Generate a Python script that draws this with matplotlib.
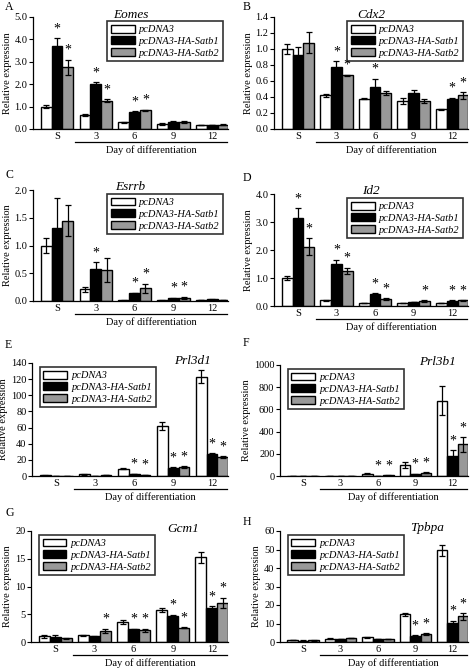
import matplotlib
matplotlib.use("Agg")
import matplotlib.pyplot as plt
import matplotlib.transforms as mtransforms
import numpy as np
from matplotlib.patches import Patch

plt.rcParams['font.family'] = ['Liberation Serif', 'DejaVu Serif']

groups = ['S', '3', '6', '9', '12']
series_names = ['pcDNA3', 'pcDNA3-HA-Satb1', 'pcDNA3-HA-Satb2']
colors = ['white', 'black', '#999999']

# Panel data: mean values and errors per series (pcDNA3, Satb1, Satb2)
eomes_mean = [[1.0, 0.62, 0.30, 0.22, 0.18], [3.72, 2.02, 0.76, 0.32, 0.18], [2.75, 1.27, 0.84, 0.32, 0.20]]
eomes_err = [[0.08, 0.03, 0.03, 0.03, 0.02], [0.33, 0.07, 0.04, 0.03, 0.02], [0.35, 0.05, 0.03, 0.03, 0.02]]
eomes_star = [[], [0, 1, 2], [0, 1, 2]]

cdx2_mean = [[1.0, 0.42, 0.38, 0.35, 0.245], [0.93, 0.78, 0.53, 0.45, 0.37], [1.08, 0.67, 0.45, 0.35, 0.42]]
cdx2_err = [[0.06, 0.02, 0.01, 0.04, 0.01], [0.10, 0.07, 0.10, 0.04, 0.02], [0.13, 0.01, 0.03, 0.03, 0.04]]
cdx2_star = [[], [1, 2, 4], [1, 4]]

esrrb_mean = [[1.0, 0.21, 0.01, 0.01, 0.02], [1.32, 0.58, 0.14, 0.05, 0.03], [1.45, 0.56, 0.23, 0.06, 0.02]]
esrrb_err = [[0.13, 0.04, 0.005, 0.005, 0.005], [0.53, 0.12, 0.01, 0.01, 0.005], [0.28, 0.21, 0.08, 0.02, 0.005]]
esrrb_star = [[], [1, 2, 3], [2, 3]]

id2_mean = [[1.0, 0.20, 0.10, 0.10, 0.10], [3.15, 1.50, 0.42, 0.15, 0.18], [2.12, 1.25, 0.25, 0.18, 0.20]]
id2_err = [[0.07, 0.02, 0.01, 0.01, 0.01], [0.35, 0.15, 0.03, 0.01, 0.02], [0.30, 0.12, 0.03, 0.02, 0.02]]
id2_star = [[], [0, 1, 2, 4], [0, 1, 2, 3, 4]]

prl3d1_mean = [[0.8, 2.0, 9.0, 62.0, 123.0], [0.5, 0.5, 2.5, 10.0, 27.0], [0.5, 0.8, 1.5, 11.0, 23.5]]
prl3d1_err = [[0.2, 0.3, 0.8, 5.0, 8.0], [0.1, 0.1, 0.3, 1.0, 1.5], [0.1, 0.1, 0.2, 1.0, 1.0]]
prl3d1_star = [[], [2, 3, 4], [2, 3, 4]]

prl3b1_mean = [[1.0, 2.0, 20.0, 100.0, 680.0], [1.0, 1.0, 3.0, 15.0, 180.0], [1.0, 1.0, 5.0, 30.0, 285.0]]
prl3b1_err = [[0.2, 0.3, 3.0, 30.0, 130.0], [0.2, 0.2, 0.5, 5.0, 50.0], [0.2, 0.2, 1.0, 5.0, 65.0]]
prl3b1_star = [[], [2, 3, 4], [2, 3, 4]]

gcm1_mean = [[1.0, 1.2, 3.6, 5.8, 15.3], [0.9, 1.0, 2.3, 4.7, 6.1], [0.7, 2.0, 2.1, 2.6, 7.1]]
gcm1_err = [[0.2, 0.15, 0.3, 0.4, 1.0], [0.3, 0.1, 0.1, 0.2, 0.3], [0.1, 0.4, 0.3, 0.1, 0.9]]
gcm1_star = [[], [2, 3, 4], [1, 2, 3, 4]]

tpbpa_mean = [[1.0, 1.8, 2.5, 15.0, 49.5], [0.8, 1.7, 1.6, 3.5, 10.5], [0.9, 2.0, 1.5, 4.3, 13.8]]
tpbpa_err = [[0.1, 0.1, 0.2, 0.7, 3.0], [0.1, 0.1, 0.1, 0.3, 1.0], [0.1, 0.1, 0.1, 0.4, 1.8]]
tpbpa_star = [[], [3, 4], [3, 4]]

W, H = 477, 669
DPI = 100
fig = plt.figure(figsize=(W / DPI, H / DPI), dpi=DPI)


def add_ax(l, t, r, b):
    return fig.add_axes([l / W, 1 - b / H, (r - l) / W, (b - t) / H])


def px_offset(base, dy_px):
    return base + mtransforms.ScaledTranslation(0, dy_px / DPI, fig.dpi_scale_trans)


panels = [
    dict(letter='A', title='Eomes', box=(33, 17, 228, 129), mean=eomes_mean, err=eomes_err, star=eomes_star,
         yticks=np.arange(0, 5.01, 1.0), fmt='{:.1f}', ymax=5.0, leg='right', tx=0.5, lpos=(5, 7)),
    dict(letter='B', title='Cdx2', box=(274, 17, 468, 129), mean=cdx2_mean, err=cdx2_err, star=cdx2_star,
         yticks=np.arange(0, 1.41, 0.2), fmt='{:.1f}', ymax=1.4, leg='right', tx=0.5, lpos=(243, 7)),
    dict(letter='C', title='Esrrb', box=(33, 190, 228, 301), mean=esrrb_mean, err=esrrb_err, star=esrrb_star,
         yticks=np.arange(0, 2.01, 0.5), fmt='{:.1f}', ymax=2.0, leg='right', tx=0.5, lpos=(5, 175)),
    dict(letter='D', title='Id2', box=(274, 194, 468, 306), mean=id2_mean, err=id2_err, star=id2_star,
         yticks=np.arange(0, 4.01, 1.0), fmt='{:.1f}', ymax=4.0, leg='right', tx=0.5, lpos=(243, 178)),
    dict(letter='E', title='Prl3d1', box=(32, 363, 228, 476), mean=prl3d1_mean, err=prl3d1_err, star=prl3d1_star,
         yticks=np.arange(0, 141, 20), fmt='{:.0f}', ymax=140, leg='left', tx=0.82, lpos=(5, 345)),
    dict(letter='F', title='Prl3b1', box=(280, 365, 468, 476), mean=prl3b1_mean, err=prl3b1_err, star=prl3b1_star,
         yticks=np.arange(0, 1001, 200), fmt='{:.0f}', ymax=1000, leg='left', tx=0.84, lpos=(243, 343)),
    dict(letter='G', title='Gcm1', box=(31, 531, 228, 642), mean=gcm1_mean, err=gcm1_err, star=gcm1_star,
         yticks=np.arange(0, 21, 5), fmt='{:.0f}', ymax=20, leg='left', tx=0.77, lpos=(5, 513)),
    dict(letter='H', title='Tpbpa', box=(280, 531, 468, 642), mean=tpbpa_mean, err=tpbpa_err, star=tpbpa_star,
         yticks=np.arange(0, 61, 10), fmt='{:.0f}', ymax=60, leg='left', tx=0.78, lpos=(243, 522)),
]

bw = 0.28
x = np.arange(len(groups))
for p in panels:
    ax = add_ax(*p['box'])
    for i in range(3):
        xs = x + (i - 1) * bw
        ax.bar(xs, p['mean'][i], bw, color=colors[i], edgecolor='black', linewidth=1.0, zorder=2)
        ax.errorbar(xs, p['mean'][i], yerr=p['err'][i], fmt='none', ecolor='black',
                    elinewidth=0.9, capsize=2.2, capthick=0.9, zorder=3)
        for g in p['star'][i]:
            top = p['mean'][i][g] + p['err'][i][g]
            ax.annotate('*', (xs[g], top), xytext=(0, 2), textcoords='offset points',
                        ha='center', va='bottom', fontsize=10)
    ax.set_xlim(-0.62, 4.41)
    ax.set_ylim(0, p['ymax'])
    ax.set_yticks(p['yticks'])
    ax.set_yticklabels([p['fmt'].format(v) for v in p['yticks']], fontsize=7.5)
    ax.set_xticks(x)
    ax.set_xticklabels(groups, fontsize=7.5)
    ax.tick_params(axis='x', length=0, pad=2)
    ax.tick_params(axis='y', length=3, width=0.8, pad=1)
    for s in ['top', 'right']:
        ax.spines[s].set_visible(False)
    for s in ['left', 'bottom']:
        ax.spines[s].set_linewidth(0.9)
    ax.set_ylabel('Relative expression', fontsize=7.5, labelpad=2)
    ax.text(p['tx'], 1.0, p['title'], transform=px_offset(ax.transAxes, 2.5), ha='center', va='center',
            fontsize=9.5, style='italic')
    # underline for days
    trans = ax.get_xaxis_transform()
    ax.plot([0.46, 4.39], [0, 0], transform=px_offset(trans, -13), color='black', lw=0.9, clip_on=False)
    ax.text(2.42, 0, 'Day of differentiation', transform=px_offset(trans, -21.5), ha='center',
            va='center', fontsize=7.5)
    handles = [Patch(facecolor=colors[i], edgecolor='black', linewidth=1.0) for i in range(3)]
    if p['leg'] == 'right':
        loc, anchor = 'upper right', (0.975, 0.965)
    else:
        loc, anchor = 'upper left', (0.04, 0.965)
    leg = ax.legend(handles, series_names, loc=loc, bbox_to_anchor=anchor,
                    prop={'style': 'italic', 'size': 7.5}, frameon=True, fancybox=False,
                    handlelength=2.3, handleheight=0.8, handletextpad=0.4, borderpad=0.35,
                    labelspacing=0.2, borderaxespad=0)
    leg.get_frame().set_edgecolor('black')
    leg.get_frame().set_linewidth(1.2)
    fig.text(p['lpos'][0] / W, 1 - p['lpos'][1] / H, p['letter'], ha='left', va='center', fontsize=8.5)

fig.savefig('out.png', dpi=DPI)
